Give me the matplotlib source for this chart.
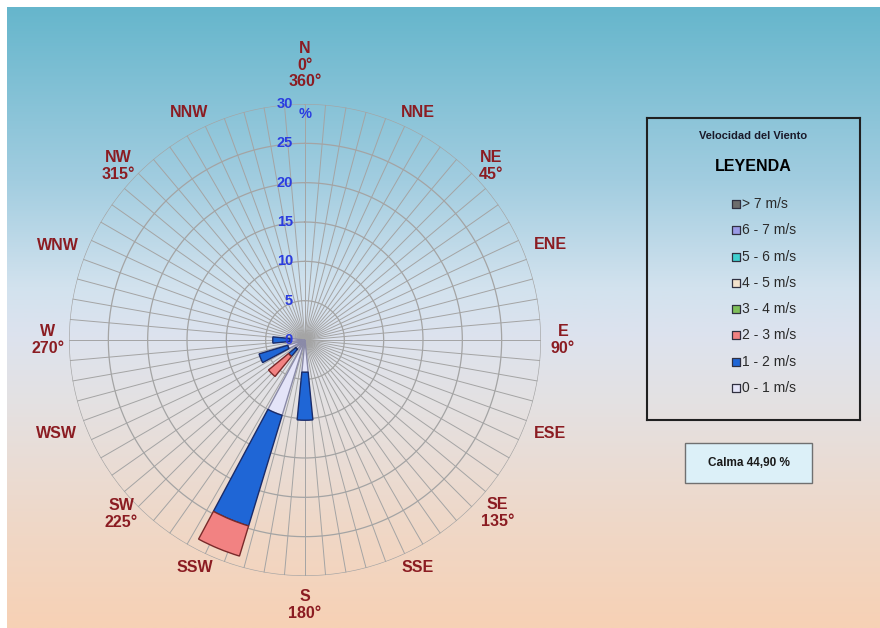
import matplotlib
matplotlib.use("Agg")
import matplotlib.pyplot as plt
import numpy as np
from matplotlib.colors import LinearSegmentedColormap
from matplotlib.patches import Rectangle

plt.rcParams["font.family"] = ["Liberation Sans", "DejaVu Sans"]

# ---------------------------------------------------------------------------
# Data (percent of observations per direction and speed class)
# ---------------------------------------------------------------------------
DIRECTIONS = ["N", "NNE", "NE", "ENE", "E", "ESE", "SE", "SSE",
              "S", "SSW", "SW", "WSW", "W", "WNW", "NW", "NNW"]
DIR_ANGLES = np.arange(16) * 22.5
DIR_DEGREES = {"N": "0°\n360°", "NE": "45°", "E": "90°", "SE": "135°",
               "S": "180°", "SW": "225°", "W": "270°", "NW": "315°"}

SPEED_CLASSES = ["0 - 1 m/s", "1 - 2 m/s", "2 - 3 m/s", "3 - 4 m/s",
                 "4 - 5 m/s", "5 - 6 m/s", "6 - 7 m/s", "> 7 m/s"]
SPEED_COLORS = ["#e4e4f8", "#1f66d6", "#f28282", "#7fbf5a",
                "#f2e2cc", "#3fd0d0", "#9a9ae6", "#6d6d6d"]
SPEED_EDGES = ["#8a8aa8", "#1a2c6a", "#7a2a2a", "#3f5f2a",
               "#7a6a5a", "#1f6f6f", "#3a3a8a", "#303030"]

#                   N  NNE NE ENE E ESE SE SSE  S    SSW  SW   WSW  W    WNW NW NNW
FREQ_0_1 = np.array([0, 0, 0, 0, 0, 0, 0, 0, 4.1, 10.0, 1.5, 2.3, 1.9, 0, 0, 0])
FREQ_1_2 = np.array([0, 0, 0, 0, 0, 0, 0, 0, 6.1, 14.7, 1.2, 3.8, 2.2, 0, 0, 0])
FREQ_2_3 = np.array([0, 0, 0, 0, 0, 0, 0, 0, 0.0, 4.0, 3.3, 0.0, 0.0, 0, 0, 0])
FREQ_3_4 = np.zeros(16)
FREQ_4_5 = np.zeros(16)
FREQ_5_6 = np.zeros(16)
FREQ_6_7 = np.zeros(16)
FREQ_GT_7 = np.zeros(16)

CALM = 44.90
RING_TICKS = [0, 5, 10, 15, 20, 25, 30]

# label placement (angle in degrees, distance in px from rose centre)
LABEL_ANGLE = [0, 26.4, 47, 68.8, 90, 110.8, 132, 153.6,
               180, 205.8, 226.6, 249.4, 270, 291, 313, 333]
LABEL_DIST = [275, 254, 255, 263, 258, 262, 259, 254,
              265, 253, 253, 265, 257, 265, 255, 255]

W, H = 880, 628
CX, CY, RPX = 305, 340, 236
RMAX = 30.0
LABEL_RED = "#8b1c22"
RING_BLUE = "#2a3ce0"
GRID = "#a4a4a4"

fig = plt.figure(figsize=(W / 100, H / 100), dpi=100)

# background gradient
bg = fig.add_axes([7 / W, 0, 1 - 7 / W, 1 - 7 / H])
grad = LinearSegmentedColormap.from_list(
    "bg", [(0.0, "#66b6cc"), (0.28, "#a2cde0"), (0.45, "#d2e2ee"),
           (0.53, "#dde3ee"), (0.64, "#e4e1e2"), (0.83, "#efd8c8"),
           (1.0, "#f7d1b5")])
bg.imshow(np.linspace(0, 1, 256)[:, None], aspect="auto", cmap=grad,
          extent=[0, 1, 0, 1])
bg.set_axis_off()

# polar rose
ax = fig.add_axes([(CX - RPX) / W, (H - CY - RPX) / H, 2 * RPX / W, 2 * RPX / H],
                  projection="polar")
ax.set_theta_zero_location("N")
ax.set_theta_direction(-1)
ax.set_ylim(0, RMAX)
ax.patch.set_alpha(0)
ax.grid(False)
ax.set_xticks([])
ax.set_yticks([])
ax.spines["polar"].set_visible(False)

full = np.linspace(0, 2 * np.pi, 400)
for r in RING_TICKS[1:]:
    ax.plot(full, np.full_like(full, r), color=GRID, lw=0.9, zorder=1)
for a in np.arange(0, 360, 5):
    ax.plot([np.radians(a)] * 2, [0, RMAX], color=GRID, lw=0.7, zorder=1)

series = [FREQ_0_1, FREQ_1_2, FREQ_2_3, FREQ_3_4,
          FREQ_4_5, FREQ_5_6, FREQ_6_7, FREQ_GT_7]
theta = np.radians(DIR_ANGLES)
bottom = np.zeros(16)
for vals, col, edge in zip(series, SPEED_COLORS, SPEED_EDGES):
    mask = vals > 0
    if mask.any():
        ax.bar(theta[mask], vals[mask], width=np.radians(11.25),
               bottom=bottom[mask], color=col, edgecolor=edge, lw=1.0, zorder=3)
    bottom += vals

for r in RING_TICKS:
    ax.annotate(str(r), xy=(0, r), xytext=(-12, 0), textcoords="offset pixels",
                ha="right", va="center", color=RING_BLUE, fontsize=10.5,
                fontweight="bold", zorder=5, annotation_clip=False)
ax.annotate("%", xy=(0, RMAX), xytext=(0, -10), textcoords="offset pixels",
            ha="center", va="center", color=RING_BLUE, fontsize=10.5,
            fontweight="bold", zorder=5, annotation_clip=False)

for name, ang, dist in zip(DIRECTIONS, LABEL_ANGLE, LABEL_DIST):
    text = name + ("\n" + DIR_DEGREES[name] if name in DIR_DEGREES else "")
    ax.text(np.radians(ang), dist / RPX * RMAX, text, ha="center", va="center",
            color=LABEL_RED, fontsize=11.5, fontweight="bold",
            linespacing=1.15, clip_on=False)

# legend box
lx0, ly0, lx1, ly1 = 647, 118, 860, 420
leg = fig.add_axes([lx0 / W, (H - ly1) / H, (lx1 - lx0) / W, (ly1 - ly0) / H])
leg.patch.set_alpha(0)
leg.set_xlim(0, 1)
leg.set_ylim(0, 1)
leg.set_xticks([])
leg.set_yticks([])
for sp in leg.spines.values():
    sp.set_color("#202020")
    sp.set_linewidth(1.5)

leg.text(0.5, (ly1 - 136) / (ly1 - ly0), "Velocidad del Viento", ha="center",
         va="center", fontsize=8, fontweight="bold", color="#1a1a2a")
leg.text(0.5, (ly1 - 166) / (ly1 - ly0), "LEYENDA", ha="center", va="center",
         fontsize=11.5, fontweight="bold", color="#000000")
entry_y = np.linspace(204, 388, 8)
for i, k in enumerate(range(7, -1, -1)):
    yy = (ly1 - entry_y[i]) / (ly1 - ly0)
    leg.scatter([(736 - lx0) / (lx1 - lx0)], [yy], marker="s", s=26,
                color=SPEED_COLORS[k], edgecolors="#303040", linewidths=0.9)
    leg.text((742 - lx0) / (lx1 - lx0), yy, SPEED_CLASSES[k], ha="left",
             va="center", fontsize=10, color="#2a2a2a")

# calm box
fig.patches.append(Rectangle((685 / W, (H - 483) / H), 127 / W, 40 / H,
                             transform=fig.transFigure, facecolor="#dcf0f8",
                             edgecolor="#707070", lw=1.0))
fig.text(748.5 / W, (H - 463) / H, f"Calma {CALM:.2f} %".replace(".", ","),
         ha="center", va="center", fontsize=8.5, fontweight="bold",
         color="#1a1a1a")

fig.savefig("out.png", dpi=100)
